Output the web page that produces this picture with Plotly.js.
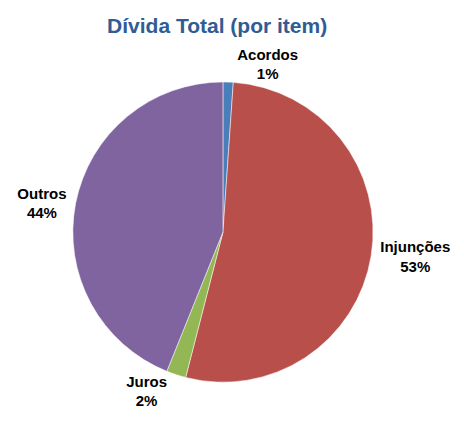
<!DOCTYPE html>
<html>
<head>
<meta charset="utf-8">
<script src="https://cdn.plot.ly/plotly-3.0.1.min.js"></script>
<style>html,body{margin:0;padding:0;background:#fff;}#chart{width:464px;height:427px;}</style>
</head>
<body>
<div id="chart"></div>
<script>
var categories = ["Acordos", "Injunções", "Juros", "Outros"];
var values = [1.1, 52.9, 2.1, 43.9];
var colors = ["#4A7EBB", "#B94F4B", "#94B755", "#7F64A0"];
var titleText = "Dívida Total (por item)";

var trace = {
  type: "pie",
  labels: categories,
  values: values,
  sort: false,
  direction: "clockwise",
  rotation: 0,
  marker: {colors: colors, line: {color: "#ffffff", width: 0.5}},
  texttemplate: "%{label}<br>%{percent:.0%}",
  textposition: "outside",
  outsidetextfont: {family: "Liberation Sans, Arial, sans-serif", size: 15, color: "#000000", weight: "bold"},
  hoverinfo: "label+percent",
  showlegend: false,
  domain: {x: [0.157, 0.804], y: [0.105, 0.808]}
};

var layout = {
  width: 464,
  height: 427,
  margin: {l: 0, r: 0, t: 0, b: 0},
  paper_bgcolor: "#ffffff",
  title: {
    text: "<b>" + titleText + "</b>",
    font: {family: "Liberation Sans, Arial, sans-serif", size: 21, color: "#2F5C94"},
    x: 0.468, xanchor: "center",
    y: 0.94, yanchor: "middle"
  }
};

Plotly.newPlot("chart", [trace], layout, {displayModeBar: false, staticPlot: true});
</script>
</body>
</html>
